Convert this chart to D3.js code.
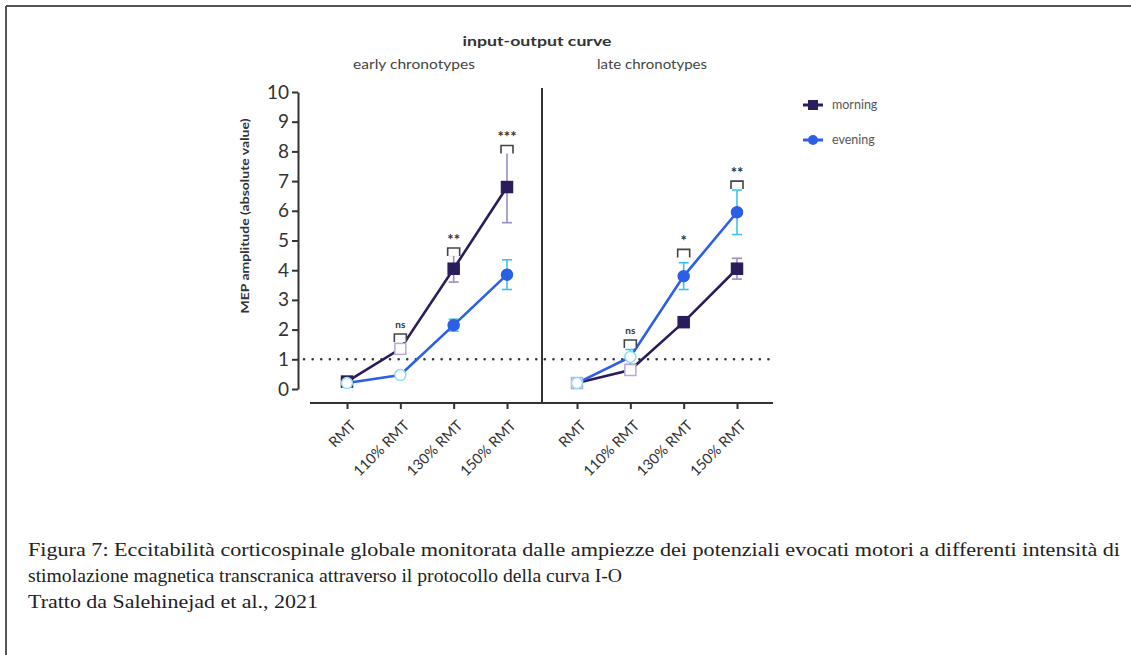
<!DOCTYPE html>
<html>
<head>
<meta charset="utf-8">
<script src="https://cdn.jsdelivr.net/npm/d3@7"></script>
<style>
  body { margin: 0; background: #fff; }
  svg { display: block; }
</style>
</head>
<body>
<div id="chart"></div>
<script>
// data
var categories = ["RMT", "110% RMT", "130% RMT", "150% RMT"];
var yTicks = [0, 1, 2, 3, 4, 5, 6, 7, 8, 9, 10];

// early chronotypes
var earlyMorning = [0.25, 1.35, 4.05, 6.8];
var earlyMorningErr = [0.05, 0.15, 0.45, 1.2];
var earlyEvening = [0.2, 0.47, 2.15, 3.85];
var earlyEveningErr = [0.05, 0.08, 0.2, 0.5];
var earlySigText = ["", "ns", "**", "***"];
var earlySigLevel = [null, 1.85, 4.75, 8.2];

// late chronotypes
var lateMorning = [0.2, 0.64, 2.25, 4.05];
var lateMorningErr = [0.05, 0.1, 0.15, 0.35];
var lateEvening = [0.2, 1.08, 3.8, 5.95];
var lateEveningErr = [0.05, 0.25, 0.45, 0.75];
var lateSigText = ["", "ns", "*", "**"];
var lateSigLevel = [null, 1.65, 4.7, 7.0];

var svgWidth = 1131;
var svgHeight = 655;
var colMorning = "#2b1d5c";
var colMorningErr = "#9c8cc4";
var colEvening = "#2a5fe6";
var colEveningErr = "#3cc4ee";

var svg = d3.select("#chart")
  .append("svg")
  .attr("width", svgWidth)
  .attr("height", svgHeight);

// frame of the page
svg.append("line").attr("x1", 6).attr("x2", 1131).attr("y1", 6).attr("y2", 6)
  .attr("stroke", "#555").attr("stroke-width", 2);
svg.append("line").attr("x1", 6).attr("x2", 6).attr("y1", 6).attr("y2", 655)
  .attr("stroke", "#555").attr("stroke-width", 2);

var y = d3.scaleLinear().domain([0, 10]).range([389, 92]);

// y axis
var yAxis = svg.append("g")
  .attr("transform", "translate(298,0)")
  .call(d3.axisLeft(y).tickValues(yTicks).tickSize(6).tickPadding(3).tickSizeOuter(0));
yAxis.select(".domain").attr("stroke", "#333").attr("stroke-width", 2);
yAxis.selectAll(".tick line").attr("stroke", "#333").attr("stroke-width", 2);
yAxis.selectAll(".tick text")
  .attr("font-family", "Lato, sans-serif")
  .attr("font-size", 19)
  .attr("fill", "#333");

svg.append("text")
  .attr("transform", "translate(249,216) rotate(-90)")
  .attr("text-anchor", "middle")
  .attr("font-family", "Lato, sans-serif")
  .attr("font-weight", "bold")
  .attr("font-size", 11.5)
  .attr("textLength", 195)
  .attr("lengthAdjust", "spacingAndGlyphs")
  .attr("fill", "#333")
  .text("MEP amplitude (absolute value)");

// titles
svg.append("text").attr("x", 537).attr("y", 46).attr("text-anchor", "middle")
  .attr("font-family", "Lato, sans-serif").attr("font-weight", "bold")
  .attr("font-size", 14).attr("textLength", 149).attr("lengthAdjust", "spacingAndGlyphs")
  .attr("fill", "#333").text("input-output curve");
svg.append("text").attr("x", 414).attr("y", 69).attr("text-anchor", "middle")
  .attr("font-family", "Lato, sans-serif").attr("font-size", 13)
  .attr("textLength", 122).attr("lengthAdjust", "spacingAndGlyphs")
  .attr("fill", "#444").text("early chronotypes");
svg.append("text").attr("x", 652).attr("y", 69).attr("text-anchor", "middle")
  .attr("font-family", "Lato, sans-serif").attr("font-size", 13)
  .attr("textLength", 110).attr("lengthAdjust", "spacingAndGlyphs")
  .attr("fill", "#444").text("late chronotypes");

// x axis line + divider
svg.append("line").attr("x1", 310).attr("x2", 773).attr("y1", 403).attr("y2", 403)
  .attr("stroke", "#333").attr("stroke-width", 2);
svg.append("line").attr("x1", 542).attr("x2", 542).attr("y1", 88).attr("y2", 403)
  .attr("stroke", "#333").attr("stroke-width", 2);

// reference line at 1
svg.append("line").attr("x1", 304).attr("x2", 776).attr("y1", y(1)).attr("y2", y(1))
  .attr("stroke", "#333").attr("stroke-width", 2.5)
  .attr("stroke-dasharray", "0.1,8.5").attr("stroke-linecap", "round");

function drawPanel(range, morning, morningErr, evening, eveningErr, sigText, sigLevel, openMorning, openEvening) {
  var x = d3.scalePoint().domain(categories).range(range);

  var xAxis = svg.append("g")
    .attr("transform", "translate(0,403)")
    .call(d3.axisBottom(x).tickSize(6).tickSizeOuter(0));
  xAxis.select(".domain").remove();
  xAxis.selectAll(".tick line").attr("stroke", "#333").attr("stroke-width", 2);
  xAxis.selectAll(".tick text")
    .attr("font-family", "Lato, sans-serif")
    .attr("font-size", 14.5)
    .attr("fill", "#333")
    .attr("text-anchor", "end")
    .attr("dy", null)
    .attr("transform", "translate(3,17) rotate(-45)");

  function errorBars(vals, errs, color) {
    var g = svg.append("g").attr("stroke", color).attr("stroke-width", 1.6);
    categories.forEach(function(c, i) {
      var cx = x(c);
      g.append("line").attr("x1", cx).attr("x2", cx)
        .attr("y1", y(vals[i] - errs[i])).attr("y2", y(vals[i] + errs[i]));
      g.append("line").attr("x1", cx - 5).attr("x2", cx + 5)
        .attr("y1", y(vals[i] - errs[i])).attr("y2", y(vals[i] - errs[i]));
      g.append("line").attr("x1", cx - 5).attr("x2", cx + 5)
        .attr("y1", y(vals[i] + errs[i])).attr("y2", y(vals[i] + errs[i]));
    });
  }
  errorBars(morning, morningErr, colMorningErr);
  errorBars(evening, eveningErr, colEveningErr);

  var line = d3.line().x(function(d, i) { return x(categories[i]); }).y(function(d) { return y(d); });
  svg.append("path").datum(morning).attr("d", line)
    .attr("fill", "none").attr("stroke", colMorning).attr("stroke-width", 2.6);
  svg.append("path").datum(evening).attr("d", line)
    .attr("fill", "none").attr("stroke", colEvening).attr("stroke-width", 2.6);

  svg.append("g").selectAll("rect").data(morning).enter().append("rect")
    .attr("x", function(d, i) { return x(categories[i]) - 5.5; })
    .attr("y", function(d) { return y(d) - 5.5; })
    .attr("width", 11).attr("height", 11)
    .attr("fill", function(d, i) { return openMorning.indexOf(i) >= 0 ? "#fff" : colMorning; })
    .attr("stroke", function(d, i) { return openMorning.indexOf(i) >= 0 ? "#b9a9d8" : colMorning; })
    .attr("stroke-width", 1.5);

  svg.append("g").selectAll("circle").data(evening).enter().append("circle")
    .attr("cx", function(d, i) { return x(categories[i]); })
    .attr("cy", function(d) { return y(d); })
    .attr("r", 5.5)
    .attr("fill", function(d, i) { return openEvening.indexOf(i) >= 0 ? "#fff" : colEvening; })
    .attr("stroke", function(d, i) { return openEvening.indexOf(i) >= 0 ? "#8fdcf5" : colEvening; })
    .attr("stroke-width", 1.5);

  // significance markers
  categories.forEach(function(c, i) {
    if (sigLevel[i] === null) return;
    var cx = x(c), cy = y(sigLevel[i]);
    svg.append("path")
      .attr("d", "M" + (cx - 6) + "," + (cy + 8) + "V" + cy + "H" + (cx + 6) + "V" + (cy + 8))
      .attr("fill", "#fff").attr("stroke", "#444").attr("stroke-width", 1.6);
    svg.append("text").attr("x", cx).attr("y", sigText[i] === "ns" ? cy - 6 : cy - 3)
      .attr("text-anchor", "middle")
      .attr("font-family", "Lato, sans-serif")
      .attr("font-weight", "bold")
      .attr("font-size", sigText[i] === "ns" ? 10 : 15)
      .attr("fill", "#333")
      .text(sigText[i]);
  });
}

drawPanel([347, 507], earlyMorning, earlyMorningErr, earlyEvening, earlyEveningErr,
  earlySigText, earlySigLevel, [1], [0, 1]);
drawPanel([577, 737], lateMorning, lateMorningErr, lateEvening, lateEveningErr,
  lateSigText, lateSigLevel, [0, 1], [0, 1]);

// legend
var legend = svg.append("g").attr("font-family", "Lato, sans-serif").attr("font-size", 12.5).attr("fill", "#555");
legend.append("line").attr("x1", 803).attr("x2", 823).attr("y1", 105).attr("y2", 105)
  .attr("stroke", colMorning).attr("stroke-width", 3);
legend.append("rect").attr("x", 808).attr("y", 100).attr("width", 10).attr("height", 10).attr("fill", colMorning);
legend.append("text").attr("x", 832).attr("y", 109).text("morning");
legend.append("line").attr("x1", 803).attr("x2", 823).attr("y1", 140).attr("y2", 140)
  .attr("stroke", colEvening).attr("stroke-width", 3);
legend.append("circle").attr("cx", 813).attr("cy", 140).attr("r", 5).attr("fill", colEvening);
legend.append("text").attr("x", 832).attr("y", 144).text("evening");

// caption
var caption = [
  "Figura 7: Eccitabilità corticospinale globale monitorata dalle ampiezze dei potenziali evocati motori a differenti intensità di",
  "stimolazione magnetica transcranica attraverso il protocollo della curva I-O",
  "Tratto da Salehinejad et al., 2021"
];
var captionWidth = [1092, 594, 290];
svg.append("g").selectAll("text").data(caption).enter().append("text")
  .attr("x", 28)
  .attr("y", function(d, i) { return 556 + i * 26; })
  .attr("font-family", "'Liberation Serif', 'Times New Roman', serif")
  .attr("font-size", 18.5)
  .attr("textLength", function(d, i) { return captionWidth[i]; })
  .attr("lengthAdjust", "spacingAndGlyphs")
  .attr("fill", "#222")
  .text(function(d) { return d; });
</script>
</body>
</html>
